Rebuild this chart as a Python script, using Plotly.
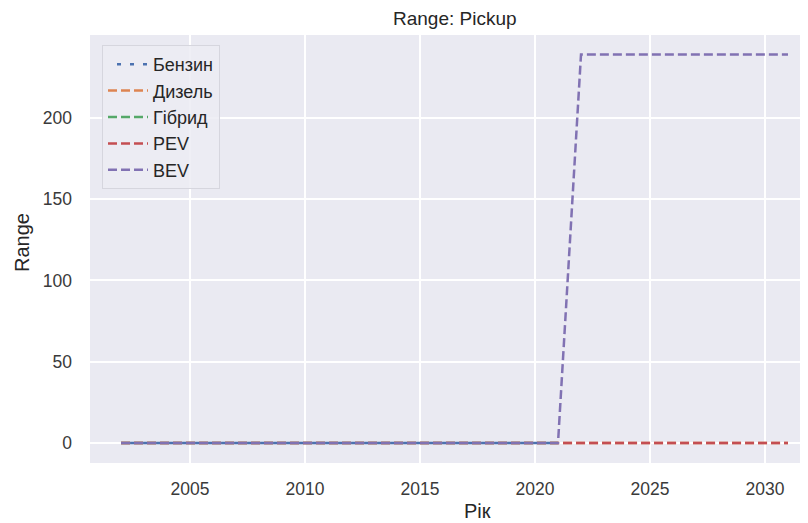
import plotly.graph_objects as go

years = list(range(2002, 2032))
benzin = [0] * 20 + [None] * 10
dyzel = [0] * 30
hibryd = [0] * 20 + [None] * 10
pev = [0] * 30
bev = [0] * 20 + [239] * 10

series_names = ["Бензин", "Дизель", "Гібрид", "PEV", "BEV"]
series_values = [benzin, dyzel, hibryd, pev, bev]
colors = ["#4C72B0", "#DD8452", "#55A868", "#C44E52", "#8172B3"]
dashes = ["0px,9px,4px,0px", "9px,4px", "9px,4px", "9px,4px", "9px,4px"]

x_ticks = [2005, 2010, 2015, 2020, 2025, 2030]
y_ticks = [0, 50, 100, 150, 200]

FONT = "Liberation Sans, Arial, sans-serif"
TXT = "#3a3a3a"

fig = go.Figure()
for name, vals, col, dsh in zip(series_names, series_values, colors, dashes):
    fig.add_trace(go.Scatter(
        x=years, y=vals, name=name, mode="lines",
        line=dict(color=col, width=2.5, dash=dsh), connectgaps=False,
    ))

OFF = 8  # page body margin
W, H = 800, 515
L, R, T, B = 90 - OFF, 0, 35 - OFF, 60
pw, ph = W - L - R, H - T - B

def px(xp):
    return (xp - OFF - L) / pw

def py(yp):
    return (H - B - (yp - OFF)) / ph

fig.update_layout(
    width=W, height=H,
    margin=dict(l=L, r=R, t=T, b=B, pad=0),
    paper_bgcolor="white",
    plot_bgcolor="#EAEAF2",
    font=dict(family=FONT, color=TXT, size=16),
    showlegend=True,
    legend=dict(
        x=px(102), y=py(45), xanchor="left", yanchor="top",
        bgcolor="rgba(236,236,243,0.85)", bordercolor="#d6d6de", borderwidth=1,
        font=dict(family=FONT, size=18, color="#262626"),
        itemwidth=40,
    ),
    xaxis=dict(
        range=[2000.65, 2031.87], tickvals=x_ticks, ticktext=[str(v) for v in x_ticks],
        showgrid=True, gridcolor="white", gridwidth=1.5, zeroline=False,
        showline=False, ticks="", ticklabelstandoff=13,
        tickfont=dict(family=FONT, size=17.5, color=TXT),
    ),
    yaxis=dict(
        range=[-12.3, 251.0], tickvals=y_ticks, ticktext=[str(v) for v in y_ticks],
        showgrid=True, gridcolor="white", gridwidth=1.5, zeroline=False,
        showline=False, ticks="", ticklabelstandoff=17,
        tickfont=dict(family=FONT, size=17.5, color=TXT),
    ),
    annotations=[
        dict(text="Range: Pickup", x=px(455), y=py(18), xref="paper", yref="paper",
             showarrow=False, xanchor="center", yanchor="middle",
             font=dict(family=FONT, size=19, color="#262626")),
        dict(text="Рік", x=px(477), y=py(511), xref="paper", yref="paper",
             showarrow=False, xanchor="center", yanchor="middle",
             font=dict(family=FONT, size=20, color="#262626")),
        dict(text="Range", x=px(22), y=py(243), xref="paper", yref="paper",
             showarrow=False, xanchor="center", yanchor="middle", textangle=-90,
             font=dict(family=FONT, size=20, color="#262626")),
    ],
)

fig.write_html("out.html")
